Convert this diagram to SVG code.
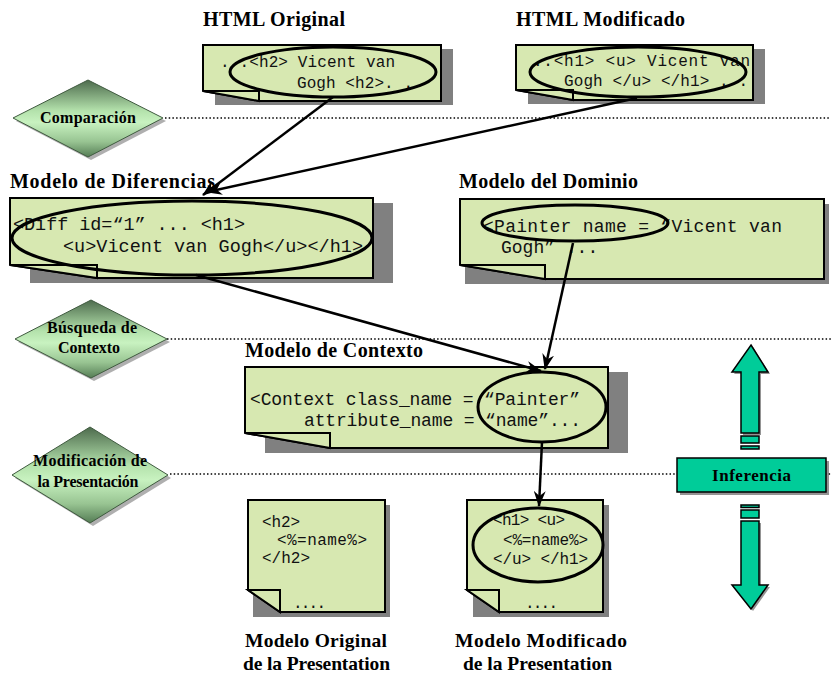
<svg xmlns="http://www.w3.org/2000/svg" width="831" height="675" viewBox="0 0 831 675">
<defs>
<style>
.title{font-family:"Liberation Serif","Times New Roman",serif;font-weight:bold;font-size:20px;fill:#000}
.btitle{font-family:"Liberation Serif","Times New Roman",serif;font-weight:bold;font-size:19.5px;fill:#000}
.dtext{font-family:"Liberation Serif","Times New Roman",serif;font-weight:bold;font-size:16px;fill:#000;text-anchor:middle}
.code{font-family:"Liberation Mono","Courier New",monospace;fill:#111}
.c16{font-size:16px}
.c18{font-size:18px}
.note{fill:#d7e8b1;stroke:#000;stroke-width:2;stroke-linejoin:miter}
.shadow{fill:#808080}
.oval{fill:none;stroke:#000;stroke-width:3}
.dots{stroke:#000;stroke-width:1.6;stroke-dasharray:1.5 2.2;fill:none}
.conn{stroke:#000;stroke-width:2.5;fill:none;marker-end:url(#ah)}
.dia{fill:url(#dg);stroke:#3f5a3f;stroke-width:1}
.dsh{fill:#7a7a7a;opacity:0.6}
.inf{fill:#00cc99;stroke:#000;stroke-width:1.5}
.ish{fill:#666;opacity:0.7}
</style>
<linearGradient id="dg" x1="0" y1="0" x2="0" y2="1">
<stop offset="0" stop-color="#4d6b4d"/>
<stop offset="0.4" stop-color="#b4e2ac"/>
<stop offset="0.55" stop-color="#c8f2c0"/>
<stop offset="0.8" stop-color="#98c492"/>
<stop offset="1" stop-color="#557d55"/>
</linearGradient>
<marker id="ah" viewBox="0 0 16 12" refX="15" refY="6" markerWidth="16" markerHeight="12" markerUnits="userSpaceOnUse" orient="auto">
<path d="M0,0 L16,6 L0,12 L5,6 z" fill="#000"/>
</marker>
</defs>
<rect width="831" height="675" fill="#fff"/>

<g id="separators">
<line class="dots" x1="165" y1="118" x2="831" y2="118"/>
<line class="dots" x1="167" y1="339" x2="831" y2="339"/>
<line class="dots" x1="170" y1="474" x2="831" y2="474"/>
</g>

<g id="phase-comparacion">
<polygon class="dsh" points="91,83 166,121 91,160 16,121"/>
<polygon class="dia" points="88,80 163,118 88,157 13,118"/>
<text class="dtext" x="88" y="123" textLength="96">Comparación</text>
</g>
<g id="phase-busqueda">
<polygon class="dsh" points="94,303 170,342 94,381 18,342"/>
<polygon class="dia" points="91,300 167,339 91,378 15,339"/>
<text class="dtext" x="92" y="333" textLength="90">Búsqueda de</text>
<text class="dtext" x="89" y="353" textLength="62">Contexto</text>
</g>
<g id="phase-modificacion">
<polygon class="dsh" points="93,430 171,478 93,526 15,478"/>
<polygon class="dia" points="90,427 168,475 90,523 12,475"/>
<text class="dtext" x="90" y="466" textLength="114">Modificación de</text>
<text class="dtext" x="88" y="487" textLength="101">la Presentación</text>
</g>

<g id="html-original">
<text class="title" x="203" y="26" textLength="142">HTML Original</text>
<rect class="shadow" x="215" y="49" width="238" height="56"/>
<path class="note" d="M203,45 H441 V101 H259 L203,91 Z"/>
<path class="note" d="M203,91 H259 V101 Z"/>
<text class="code c16" x="220" y="67" textLength="175">. .&lt;h2&gt; Vicent van</text>
<text class="code c16" x="297" y="88" textLength="116">Gogh &lt;h2&gt;. .</text>
<ellipse class="oval" cx="333" cy="72" rx="103" ry="25"/>
</g>

<g id="html-modificado">
<text class="title" x="516" y="26" textLength="169">HTML Modificado</text>
<rect class="shadow" x="528" y="49" width="237" height="55"/>
<path class="note" d="M516,45 H753 V100 H573 L516,90 Z"/>
<path class="note" d="M516,90 H573 V100 Z"/>
<text class="code c16" x="533" y="66" textLength="217">..&lt;h1&gt; &lt;u&gt; Vicent van</text>
<text class="code c16" x="564" y="86" textLength="184">Gogh &lt;/u&gt; &lt;/h1&gt; . .</text>
<ellipse class="oval" cx="638" cy="72" rx="108" ry="25"/>
</g>

<g id="modelo-diferencias">
<text class="title" x="10" y="188" textLength="205">Modelo de Diferencias</text>
<rect class="shadow" x="30" y="203" width="363" height="80"/>
<path class="note" d="M10,198 H373 V278 H97 L10,265 Z"/>
<path class="note" d="M10,265 H97 V278 Z"/>
<text class="code" style="font-size:18.5px" x="13" y="230" textLength="232">&lt;Diff id=“1” ... &lt;h1&gt;</text>
<text class="code" style="font-size:18.5px" x="63" y="252" textLength="300">&lt;u&gt;Vicent van Gogh&lt;/u&gt;&lt;/h1&gt;</text>
<ellipse class="oval" cx="192" cy="238" rx="180" ry="37"/>
</g>

<g id="modelo-dominio">
<text class="title" x="459" y="188" textLength="179">Modelo del Dominio</text>
<rect class="shadow" x="465" y="204" width="364" height="80"/>
<path class="note" d="M460,199 H824 V279 H545 L460,265 Z"/>
<path class="note" d="M460,265 H545 V279 Z"/>
<text class="code c18" x="483" y="232" textLength="299">&lt;Painter name = “Vicent van</text>
<text class="code c18" x="501" y="253">Gogh” ...</text>
<ellipse class="oval" cx="575" cy="223" rx="93" ry="18"/>
</g>

<g id="modelo-contexto">
<text class="title" x="245" y="357" textLength="178">Modelo de Contexto</text>
<rect class="shadow" x="265" y="372" width="363" height="81"/>
<path class="note" d="M245,367 H608 V448 H330 L245,433 Z"/>
<path class="note" d="M245,433 H330 V448 Z"/>
<text class="code c18" x="250" y="405" textLength="330">&lt;Context class_name = “Painter”</text>
<text class="code c18" x="304" y="426" textLength="277">attribute_name = “name”...</text>
<ellipse class="oval" cx="542" cy="407" rx="64" ry="35"/>
</g>

<g id="modelo-original-presentacion">
<rect class="shadow" x="253" y="505" width="137" height="112"/>
<path class="note" d="M248,500 H385 V612 H280 L248,590 Z"/>
<path class="note" d="M248,590 H280 V612 Z"/>
<text class="code c16" x="262" y="527" textLength="38">&lt;h2&gt;</text>
<text class="code c16" x="277" y="545" textLength="90">&lt;%=name%&gt;</text>
<text class="code c16" x="262" y="563" textLength="48">&lt;/h2&gt;</text>
<text class="code c16" x="293" y="608" textLength="33">....</text>
<text class="btitle" x="245" y="647" textLength="142">Modelo Original</text>
<text class="btitle" x="243" y="670" textLength="147">de la Presentation</text>
</g>

<g id="modelo-modificado-presentacion">
<rect class="shadow" x="473" y="505" width="136" height="112"/>
<path class="note" d="M467,500 H603 V612 H499 L467,590 Z"/>
<path class="note" d="M467,590 H499 V612 Z"/>
<text class="code c16" x="493" y="525" textLength="72">&lt;h1&gt; &lt;u&gt;</text>
<text class="code c16" x="503" y="545" textLength="85">&lt;%=name%&gt;</text>
<text class="code c16" x="493" y="564" textLength="95">&lt;/u&gt; &lt;/h1&gt;</text>
<text class="code c16" x="525" y="608" textLength="33">....</text>
<ellipse class="oval" cx="538" cy="545" rx="65" ry="37"/>
<text class="btitle" x="455" y="647" textLength="172">Modelo Modificado</text>
<text class="btitle" x="463" y="670" textLength="149">de la Presentation</text>
</g>

<g id="inferencia">
<polygon class="ish" points="753,347 770,374 761,374 761,435 743,435 743,374 734,374"/>
<polygon class="inf" points="751,345 768,372 759,372 759,433 741,433 741,372 732,372"/>
<rect class="inf" x="741" y="436" width="18" height="7"/>
<rect class="inf" x="741" y="446" width="18" height="3"/>
<rect class="ish" x="680" y="461" width="149" height="34"/>
<rect class="inf" x="677" y="458" width="149" height="34"/>
<text x="751.5" y="481" text-anchor="middle" textLength="79" style="font-family:'Liberation Serif','Times New Roman',serif;font-weight:bold;font-size:17px">Inferencia</text>
<rect class="inf" x="741" y="505" width="18" height="2.5"/>
<rect class="inf" x="741" y="510" width="18" height="8"/>
<polygon class="ish" points="743,523 761,523 761,587 770,587 753,611 734,587 743,587"/>
<polygon class="inf" points="741,521 759,521 759,585 768,585 751,609 732,585 741,585"/>
</g>

<g id="connectors">
<line class="conn" x1="333" y1="97" x2="203" y2="195"/>
<line class="conn" x1="637" y1="98" x2="207" y2="192"/>
<line class="conn" x1="196" y1="275" x2="541" y2="371"/>
<line class="conn" x1="573" y1="243" x2="545" y2="369"/>
<line class="conn" x1="542" y1="442" x2="539" y2="506"/>
</g>
</svg>
